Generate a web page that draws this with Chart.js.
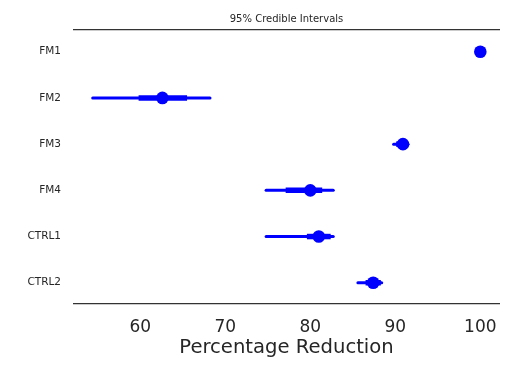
<!DOCTYPE html>
<html>
<head>
<meta charset="utf-8">
<script src="https://cdn.jsdelivr.net/npm/chart.js@4/dist/chart.umd.min.js"></script>
<style>
  html, body { margin: 0; padding: 0; background: #fff; }
  #wrap { width: 521px; height: 368px; }
</style>
</head>
<body>
<div id="wrap"><canvas id="chart" width="521" height="368"></canvas></div>
<script>
// Groups and their 95% credible intervals (percentage reduction)
const groups = ['FM1', 'FM2', 'FM3', 'FM4', 'CTRL1', 'CTRL2'];
const medians = [100, 62.6, 90.9, 80.0, 81.0, 87.4];
const outerLow = [100, 54.4, 89.8, 74.8, 74.8, 85.6];
const outerHigh = [100, 68.2, 91.5, 82.7, 82.7, 88.4];
const innerLow = [100, 59.8, 90.1, 77.1, 79.6, 86.5];
const innerHigh = [100, 65.5, 91.2, 81.4, 82.4, 88.3];
const xTicks = [60, 70, 80, 90, 100];

const blue = '#0000ff';
const textColor = '#262626';

// one line segment per group for the outer and inner intervals
const segment = (lo, hi, i, width, cap) => ({
    type: 'scatter',
    data: [{ x: lo, y: i }, { x: hi, y: i }],
    showLine: true,
    borderColor: blue,
    backgroundColor: blue,
    borderWidth: width,
    borderCapStyle: cap,
    pointRadius: 0,
    pointHoverRadius: 0
});

const datasets = [];
groups.forEach((g, i) => {
    datasets.push(segment(outerLow[i], outerHigh[i], i, 3, 'round'));
    datasets.push(segment(innerLow[i], innerHigh[i], i, 5.5, 'butt'));
});
datasets.push({
    type: 'scatter',
    data: medians.map((m, i) => ({ x: m, y: i })),
    backgroundColor: blue,
    borderColor: blue,
    pointRadius: 6.3,
    pointBorderWidth: 0
});

new Chart(document.getElementById('chart'), {
    type: 'scatter',
    data: { datasets },
    options: {
        responsive: false,
        animation: false,
        devicePixelRatio: 1,
        layout: { padding: { left: 0, right: 22, top: 0, bottom: 0 } },
        plugins: {
            legend: { display: false },
            tooltip: { enabled: false }
        },
        scales: {
            x: {
                type: 'linear',
                position: 'bottom',
                min: 52.2,
                max: 102.2,
                afterBuildTicks: (scale) => { scale.ticks = xTicks.map(v => ({ value: v })); },
                ticks: {
                    color: textColor,
                    font: { family: 'DejaVu Sans', size: 17 },
                    padding: 13,
                    maxRotation: 0
                },
                grid: { display: false, drawTicks: false },
                border: { display: true, color: '#333', width: 1.2 },
                title: {
                    display: true,
                    text: 'Percentage Reduction',
                    color: textColor,
                    font: { family: 'DejaVu Sans', size: 19.6 },
                    padding: { top: 0, bottom: 8 }
                },
                afterFit: (scale) => { scale.height = 64; }
            },
            x2: {
                type: 'linear',
                position: 'top',
                min: 52.2,
                max: 102.2,
                ticks: { display: false },
                grid: { display: false, drawTicks: false },
                border: { display: true, color: '#333', width: 1.2 },
                title: {
                    display: true,
                    text: '95% Credible Intervals',
                    color: textColor,
                    font: { family: 'DejaVu Sans', size: 10 },
                    padding: { top: 13, bottom: 5 }
                },
                afterFit: (scale) => { scale.height = 30; }
            },
            y: {
                type: 'linear',
                reverse: true,
                min: -0.47,
                max: 5.46,
                afterBuildTicks: (scale) => { scale.ticks = groups.map((g, i) => ({ value: i })); },
                ticks: {
                    color: textColor,
                    font: { family: 'DejaVu Sans', size: 10.5 },
                    padding: 13,
                    callback: (v) => groups[v]
                },
                grid: { display: false, drawTicks: false },
                border: { display: false },
                afterFit: (scale) => { scale.width = 74; }
            }
        }
    }
});
</script>
</body>
</html>
